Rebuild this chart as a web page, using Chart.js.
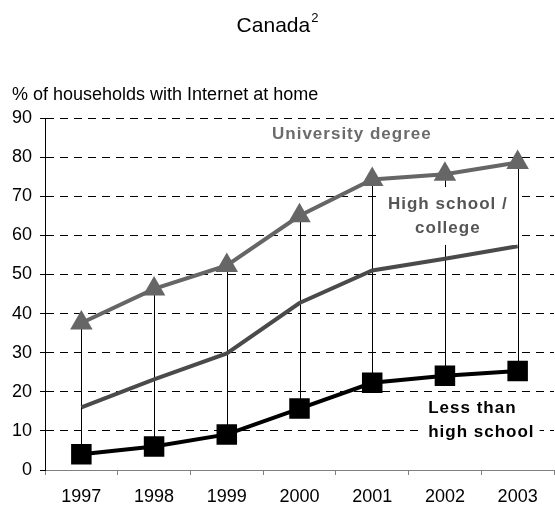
<!DOCTYPE html>
<html><head><meta charset="utf-8">
<script src="https://cdn.jsdelivr.net/npm/chart.js@4.4.1/dist/chart.umd.min.js"></script>
<style>html,body{margin:0;padding:0;background:#fff}#wrap{width:555px;height:510px}</style>
</head><body><div id="wrap"><canvas id="c" width="555" height="510"></canvas></div>
<script>
const years = ['1997', '1998', '1999', '2000', '2001', '2002', '2003'];
const university = [37.6, 46.3, 52.3, 65.0, 74.3, 75.6, 78.6];
const highSchoolCollege = [16.0, 23.2, 29.8, 42.7, 51.0, 54.0, 57.2];
const lessThanHighSchool = [4.0, 6.0, 9.1, 15.7, 22.3, 24.1, 25.3];
const yTicks = [0, 10, 20, 30, 40, 50, 60, 70, 80, 90];
const titleText = 'Canada';
const titleSup = '2';
const yAxisTitle = '% of households with Internet at home';
const seriesNames = ['University degree', 'High school / college', 'Less than high school'];

const FONT = '"Liberation Sans", Arial, sans-serif';

const labelBoxes = [
  { lines: ['University degree'], x: 3.72, y: [85.9], align: 'center', color: '#6b6b6b', pad: [6, 4] },
  { lines: ['High school /', 'college'], x: 5.04, y: [68.0, 61.9], align: 'center', color: '#555555', pad: [9, 6] },
  { lines: ['Less than', 'high school'], x: 4.77, y: [15.9, 9.7], align: 'left', color: '#000000', pad: [5, 4] }
];

const annot = {
  id: 'annot',
  beforeDatasetsDraw(chart) {
    const ctx = chart.ctx;
    const top = chart.getDatasetMeta(0).data;
    const bot = chart.getDatasetMeta(2).data;
    ctx.save();
    ctx.strokeStyle = '#000';
    ctx.lineWidth = 1;
    top.forEach((p, i) => {
      const q = bot[i];
      const x = Math.round(p.x) + 0.5;
      ctx.beginPath();
      ctx.moveTo(x, p.y);
      ctx.lineTo(x, q.y);
      ctx.stroke();
    });
    ctx.restore();
  },
  afterDatasetsDraw(chart) {
    const ctx = chart.ctx;
    const xs = chart.scales.x, ys = chart.scales.y;
    ctx.save();
    ctx.font = 'bold 17px ' + FONT;
    try { ctx.letterSpacing = '1px'; } catch (e) {}
    ctx.textBaseline = 'middle';
    labelBoxes.forEach(lb => {
      const px = xs.getPixelForValue(lb.x);
      const pys = lb.y.map(v => ys.getPixelForValue(v));
      const widths = lb.lines.map(t => ctx.measureText(t).width);
      const maxW = Math.max(...widths);
      let left = lb.align === 'center' ? px - maxW / 2 : px;
      const topY = Math.min(...pys) - 11 - lb.pad[1];
      const botY = Math.max(...pys) + 11 + lb.pad[1];
      ctx.fillStyle = '#fff';
      ctx.fillRect(left - lb.pad[0], topY, maxW + 2 * lb.pad[0], botY - topY);
      ctx.fillStyle = lb.color;
      lb.lines.forEach((t, i) => {
        ctx.textAlign = 'left';
        const lx = lb.align === 'center' ? px - widths[i] / 2 : px;
        ctx.fillText(t, lx, pys[i]);
      });
    });
    ctx.restore();
  },
  afterDraw(chart) {
    const ctx = chart.ctx;
    ctx.save();
    ctx.fillStyle = '#000';
    ctx.textBaseline = 'alphabetic';
    ctx.textAlign = 'left';
    ctx.font = '21px ' + FONT;
    const w1 = ctx.measureText(titleText).width;
    ctx.font = '13px ' + FONT;
    const w2 = ctx.measureText(titleSup).width;
    const start = 277.5 - (w1 + w2 + 1) / 2;
    ctx.font = '21px ' + FONT;
    ctx.fillText(titleText, start, 32);
    ctx.font = '13px ' + FONT;
    ctx.fillText(titleSup, start + w1 + 1, 22);
    ctx.font = '18px ' + FONT;
    ctx.fillText(yAxisTitle, 12, 100);
    ctx.restore();
  }
};

new Chart(document.getElementById('c'), {
  type: 'line',
  data: {
    labels: years,
    datasets: [
      { label: seriesNames[0], data: university, borderColor: '#666666', backgroundColor: '#666666',
        borderWidth: 4, pointStyle: 'triangle', pointRadius: 13, pointHoverRadius: 13, pointBorderWidth: 0,
        pointBackgroundColor: '#666666', tension: 0 },
      { label: seriesNames[1], data: highSchoolCollege, borderColor: '#4a4a4a', backgroundColor: '#4a4a4a',
        borderWidth: 4, pointRadius: 0, pointHoverRadius: 0, tension: 0 },
      { label: seriesNames[2], data: lessThanHighSchool, borderColor: '#000000', backgroundColor: '#000000',
        borderWidth: 4, pointStyle: 'rect', pointRadius: 14.5, pointHoverRadius: 14.5, pointBorderWidth: 0,
        pointBackgroundColor: '#000000', tension: 0 }
    ]
  },
  options: {
    responsive: false,
    animation: false,
    devicePixelRatio: 1,
    layout: { autoPadding: false, padding: { top: 118, right: 1, left: 0, bottom: 0 } },
    plugins: { legend: { display: false }, tooltip: { enabled: false }, title: { display: false } },
    scales: {
      x: {
        type: 'category',
        offset: true,
        afterFit: s => { s.height = 40; s.paddingLeft = 0; s.paddingRight = 0; },
        grid: { offset: true, drawOnChartArea: false, color: '#808080', tickLength: 5, lineWidth: 1 },
        border: { display: true, color: '#808080', width: 1 },
        ticks: { color: '#000', font: { family: FONT, size: 18 }, padding: 11, maxRotation: 0, autoSkip: false }
      },
      y: {
        min: 0, max: 90,
        afterBuildTicks: s => { s.ticks = yTicks.map(v => ({ value: v })); },
        afterFit: s => { s.width = 45; s.paddingTop = 0; s.paddingBottom = 0; },
        grid: {
          color: c => (c.tick && c.tick.value === 0) ? 'rgba(0,0,0,0)' : '#000',
          tickColor: '#000', tickLength: 5, tickBorderDash: [], lineWidth: 1
        },
        border: { display: true, color: '#000', width: 1, dash: [8, 6] },
        ticks: { color: '#000', font: { family: FONT, size: 18 }, padding: 8 }
      }
    }
  },
  plugins: [annot]
});
</script>
</body></html>
